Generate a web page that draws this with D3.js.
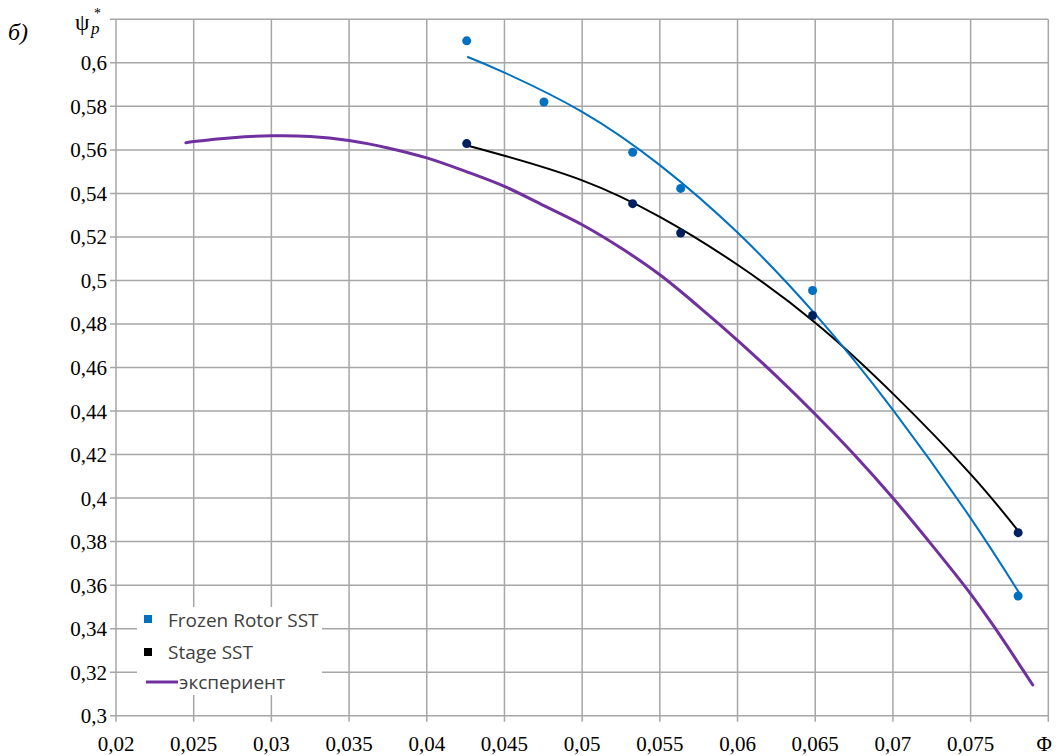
<!DOCTYPE html>
<html>
<head>
<meta charset="utf-8">
<script src="https://cdn.jsdelivr.net/npm/d3@7"></script>
<style>
  html, body { margin: 0; padding: 0; background: #fff; }
  svg { display: block; }
</style>
</head>
<body>
<svg id="chart" width="1061" height="756"></svg>
<script>
// ---- data ----
const xTickValues = [0.02, 0.025, 0.03, 0.035, 0.04, 0.045, 0.05, 0.055, 0.06, 0.065, 0.07, 0.075, 0.08];
const xTickLabels = ["0,02", "0,025", "0,03", "0,035", "0,04", "0,045", "0,05", "0,055", "0,06", "0,065", "0,07", "0,075", "Φ"];
const yTickValues = [0.3, 0.32, 0.34, 0.36, 0.38, 0.4, 0.42, 0.44, 0.46, 0.48, 0.5, 0.52, 0.54, 0.56, 0.58, 0.6, 0.62];
const yTickLabels = ["0,3", "0,32", "0,34", "0,36", "0,38", "0,4", "0,42", "0,44", "0,46", "0,48", "0,5", "0,52", "0,54", "0,56", "0,58", "0,6", ""];

// Frozen Rotor SST points
const frozenX = [0.04257, 0.04754, 0.05325, 0.05634, 0.06483, 0.07806];
const frozenY = [0.6101, 0.5820, 0.5589, 0.5423, 0.4954, 0.3550];
// Stage SST points
const stageX = [0.04257, 0.05325, 0.05634, 0.06483, 0.07806];
const stageY = [0.5629, 0.5353, 0.5218, 0.4839, 0.3841];

// Frozen Rotor trend line
const frozenTrendX = [0.0426, 0.045, 0.05, 0.055, 0.06, 0.065, 0.07, 0.075, 0.0781];
const frozenTrendY = [0.6028, 0.5955, 0.5775, 0.5530, 0.5220, 0.4845, 0.4405, 0.3908, 0.3567];
// Stage trend line
const stageTrendX = [0.0426, 0.045, 0.05, 0.055, 0.06, 0.065, 0.07, 0.075, 0.0781];
const stageTrendY = [0.5620, 0.5573, 0.5460, 0.5292, 0.5072, 0.4806, 0.4480, 0.4110, 0.3846];
// experiment
const expX = [0.0245, 0.025, 0.0275, 0.03, 0.0325, 0.035, 0.0375, 0.04, 0.0425, 0.045, 0.0475, 0.05, 0.0525, 0.055, 0.0575, 0.06, 0.0625, 0.065, 0.0675, 0.07, 0.0725, 0.075, 0.0765, 0.079];
const expY = [0.5633, 0.5638, 0.5656, 0.5665, 0.5662, 0.5643, 0.5609, 0.5563, 0.5501, 0.5432, 0.5345, 0.5256, 0.5149, 0.5026, 0.4880, 0.4725, 0.4560, 0.4385, 0.4200, 0.4000, 0.3785, 0.3560, 0.3410, 0.3141];

const seriesNames = ["Frozen Rotor SST", "Stage SST", "экспериент"];
const colors = { frozen: "#0070C0", stage: "#002060", stageLine: "#000000", exp: "#7030A0", grid: "#a6a6a6", legendText: "#404040" };
const SERIF = "'Liberation Serif', 'DejaVu Serif', serif";
const SANS = "'Open Sans', 'Noto Sans', sans-serif";

// ---- scales ----
const svg = d3.select("#chart");
const x = d3.scaleLinear().domain([0.02, 0.08]).range([116, 1048.3]);
const y = d3.scaleLinear().domain([0.3, 0.62]).range([715.7, 19.3]);

// grid
const grid = svg.append("g");
grid.selectAll("line.v").data(xTickValues).enter().append("line")
  .attr("x1", d => x(d)).attr("x2", d => x(d))
  .attr("y1", y(0.62)).attr("y2", y(0.3) + 6)
  .attr("stroke", colors.grid).attr("stroke-width", 1.5);
grid.selectAll("line.h").data(yTickValues).enter().append("line")
  .attr("x1", x(0.02) - 6).attr("x2", x(0.08))
  .attr("y1", d => y(d)).attr("y2", d => y(d))
  .attr("stroke", colors.grid).attr("stroke-width", 1.5);

// axes labels
svg.append("g").selectAll("text").data(xTickValues).enter().append("text")
  .style("font-family", SERIF).style("font-size", "21px")
  .attr("x", d => x(d)).attr("y", 751)
  .attr("dx", (d, i) => i === xTickValues.length - 1 ? -4 : 0)
  .attr("text-anchor", "middle")
  .text((d, i) => xTickLabels[i]);
svg.append("g").selectAll("text").data(yTickValues).enter().append("text")
  .style("font-family", SERIF).style("font-size", "21px")
  .attr("x", 107).attr("y", d => y(d) + 7.5)
  .attr("text-anchor", "end")
  .text((d, i) => yTickLabels[i]);

// corner labels
svg.append("text").style("font-family", SERIF).style("font-size", "24px").style("font-style", "italic")
  .attr("x", 8).attr("y", 40).text("б)");
svg.append("text").style("font-family", SERIF).style("font-size", "23px")
  .attr("x", 75).attr("y", 30).text("ψ");
svg.append("text").style("font-family", SERIF).style("font-size", "14px")
  .attr("x", 94).attr("y", 18).text("*");
svg.append("text").style("font-family", SERIF).style("font-size", "17px").style("font-style", "italic")
  .attr("x", 91).attr("y", 34).text("p");

// lines
const zip = (a, b) => a.map((v, i) => [v, b[i]]);
const trend = d3.line().x(d => x(d[0])).y(d => y(d[1])).curve(d3.curveNatural);
const smooth = d3.line().x(d => x(d[0])).y(d => y(d[1])).curve(d3.curveCatmullRom.alpha(0.5));

svg.append("path").datum(zip(expX, expY)).attr("d", smooth)
  .attr("fill", "none").attr("stroke", colors.exp).attr("stroke-width", 3).attr("stroke-linecap", "round");
svg.append("path").datum(zip(stageTrendX, stageTrendY)).attr("d", trend)
  .attr("fill", "none").attr("stroke", colors.stageLine).attr("stroke-width", 2);
svg.append("path").datum(zip(frozenTrendX, frozenTrendY)).attr("d", trend)
  .attr("fill", "none").attr("stroke", colors.frozen).attr("stroke-width", 2);

// points
svg.append("g").selectAll("circle").data(zip(frozenX, frozenY)).enter().append("circle")
  .attr("cx", d => x(d[0])).attr("cy", d => y(d[1])).attr("r", 4.5).attr("fill", colors.frozen);
svg.append("g").selectAll("circle").data(zip(stageX, stageY)).enter().append("circle")
  .attr("cx", d => x(d[0])).attr("cy", d => y(d[1])).attr("r", 4.5).attr("fill", colors.stage);

// legend
const lg = svg.append("g");
lg.append("rect").attr("x", 137).attr("y", 607).attr("width", 185).attr("height", 88).attr("fill", "#fff");
lg.append("rect").attr("x", 144).attr("y", 615).attr("width", 8).attr("height", 8).attr("fill", colors.frozen);
lg.append("text").style("font-family", SANS).style("font-size", "19px").attr("fill", colors.legendText)
  .attr("x", 168).attr("y", 627).text(seriesNames[0]);
lg.append("rect").attr("x", 144).attr("y", 648).attr("width", 8).attr("height", 8).attr("fill", "#000");
lg.append("text").style("font-family", SANS).style("font-size", "19px").attr("fill", colors.legendText)
  .attr("x", 168).attr("y", 659).text(seriesNames[1]);
lg.append("line").attr("x1", 146).attr("x2", 178).attr("y1", 682).attr("y2", 682)
  .attr("stroke", colors.exp).attr("stroke-width", 3);
lg.append("text").style("font-family", SANS).style("font-size", "19px").attr("fill", colors.legendText)
  .attr("x", 179).attr("y", 689).text(seriesNames[2]);
</script>
</body>
</html>
